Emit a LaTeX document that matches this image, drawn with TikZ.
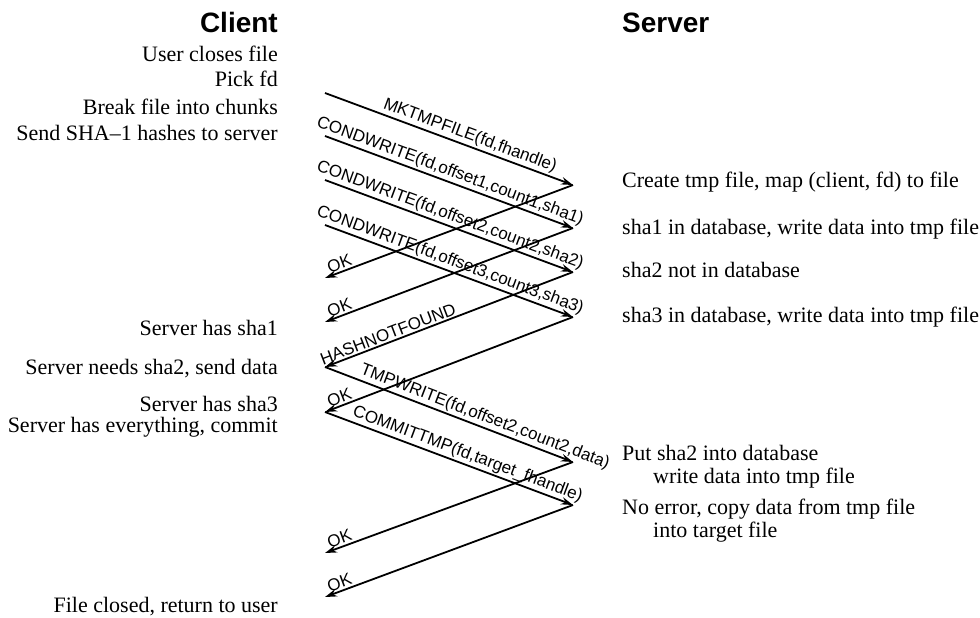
\documentclass[tikz,border=0pt]{standalone}
\usepackage{fontspec}
\setmainfont{Liberation Serif}
\setsansfont{Liberation Sans}
\usetikzlibrary{arrows.meta}
\begin{document}
\begin{tikzpicture}[x=1pt,y=-1pt,
  msg/.style={line width=1.8pt,-{Stealth[length=12pt,width=7.5pt,inset=4pt]}},
  lab/.style={font=\sffamily\fontsize{17}{17}\selectfont, sloped, above, inner sep=1.5pt},
  ctext/.style={anchor=base east, inner sep=0pt, font=\fontsize{22}{23}\selectfont},
  stext/.style={anchor=base west, inner sep=0pt, font=\fontsize{22}{23}\selectfont},
  ttl/.style={inner sep=0pt, font=\sffamily\bfseries\fontsize{28}{28}\selectfont}]
\useasboundingbox (0,0) rectangle (980,618);
% titles
\node[ttl,anchor=base east] (client) at (278,33) {Client};
\node[ttl,anchor=base west] (server) at (622,33) {Server};
% client texts
\node[ctext] (t1) at (278,62) {User closes file};
\node[ctext] (t2) at (278,87) {Pick fd};
\node[ctext] (t3) at (278,114) {Break file into chunks};
\node[ctext] (t4) at (278,140) {Send SHA--1 hashes to server};
\node[ctext] (t5) at (278,335) {Server has sha1};
\node[ctext] (t6) at (278,374) {Server needs sha2, send data};
\node[ctext] (t7) at (278,411) {Server has sha3};
\node[ctext] (t8) at (278,432) {Server has everything, commit};
\node[ctext] (t9) at (278,612) {File closed, return to user};
% server texts
\node[stext] (u1) at (622,187) {Create tmp file, map (client, fd) to file};
\node[stext] (u2) at (622,234) {sha1 in database, write data into tmp file};
\node[stext] (u3) at (622,277) {sha2 not in database};
\node[stext] (u4) at (622,322) {sha3 in database, write data into tmp file};
\node[stext] (u5) at (622,460) {Put sha2 into database};
\node[stext] (u6) at (653,483) {write data into tmp file};
\node[stext] (u7) at (622,514) {No error, copy data from tmp file};
\node[stext] (u8) at (653,537) {into target file};
% client points
\coordinate (cA) at (325,93);
\coordinate (cB) at (325,136);
\coordinate (cC) at (325,180);
\coordinate (cD) at (325,225);
\coordinate (rA) at (325,278);
\coordinate (rB) at (325,322);
\coordinate (rC) at (325,367);
\coordinate (rD) at (325,412);
\coordinate (rE) at (325,553);
\coordinate (rF) at (325,597);
% server points
\coordinate (sA) at (573,185);
\coordinate (sB) at (573,228);
\coordinate (sC) at (573,272);
\coordinate (sD) at (573,317);
\coordinate (sE) at (573,462);
\coordinate (sF) at (573,505);
% requests
\draw[msg] (cA) -- node[lab,pos=0.57] (lA) {MKTMPFILE(fd,fhandle)} (sA);
\draw[msg] (cB) -- node[lab,pos=0.49] (lB) {CONDWRITE(fd,offset1,count1,sha1)} (sB);
\draw[msg] (cC) -- node[lab,pos=0.49] (lC) {CONDWRITE(fd,offset2,count2,sha2)} (sC);
\draw[msg] (cD) -- node[lab,pos=0.49] (lD) {CONDWRITE(fd,offset3,count3,sha3)} (sD);
% replies
\draw[msg] (sA) -- node[lab,pos=0.93] (oA) {OK} (rA);
\draw[msg] (sB) -- node[lab,pos=0.93] (oB) {OK} (rB);
\draw[msg] (sC) -- node[lab,pos=0.734] (oC) {HASHNOTFOUND} (rC);
\draw[msg] (sD) -- node[lab,pos=0.93] (oD) {OK} (rD);
% second round
\draw[msg] (rC) -- node[lab,pos=0.63] (lE) {TMPWRITE(fd,offset2,count2,data)} (sE);
\draw[msg] (rD) -- node[lab,pos=0.56] (lF) {COMMITTMP(fd,target\_fhandle)} (sF);
\draw[msg] (sE) -- node[lab,pos=0.93] (oE) {OK} (rE);
\draw[msg] (sF) -- node[lab,pos=0.93] (oF) {OK} (rF);
\end{tikzpicture}
\end{document}
